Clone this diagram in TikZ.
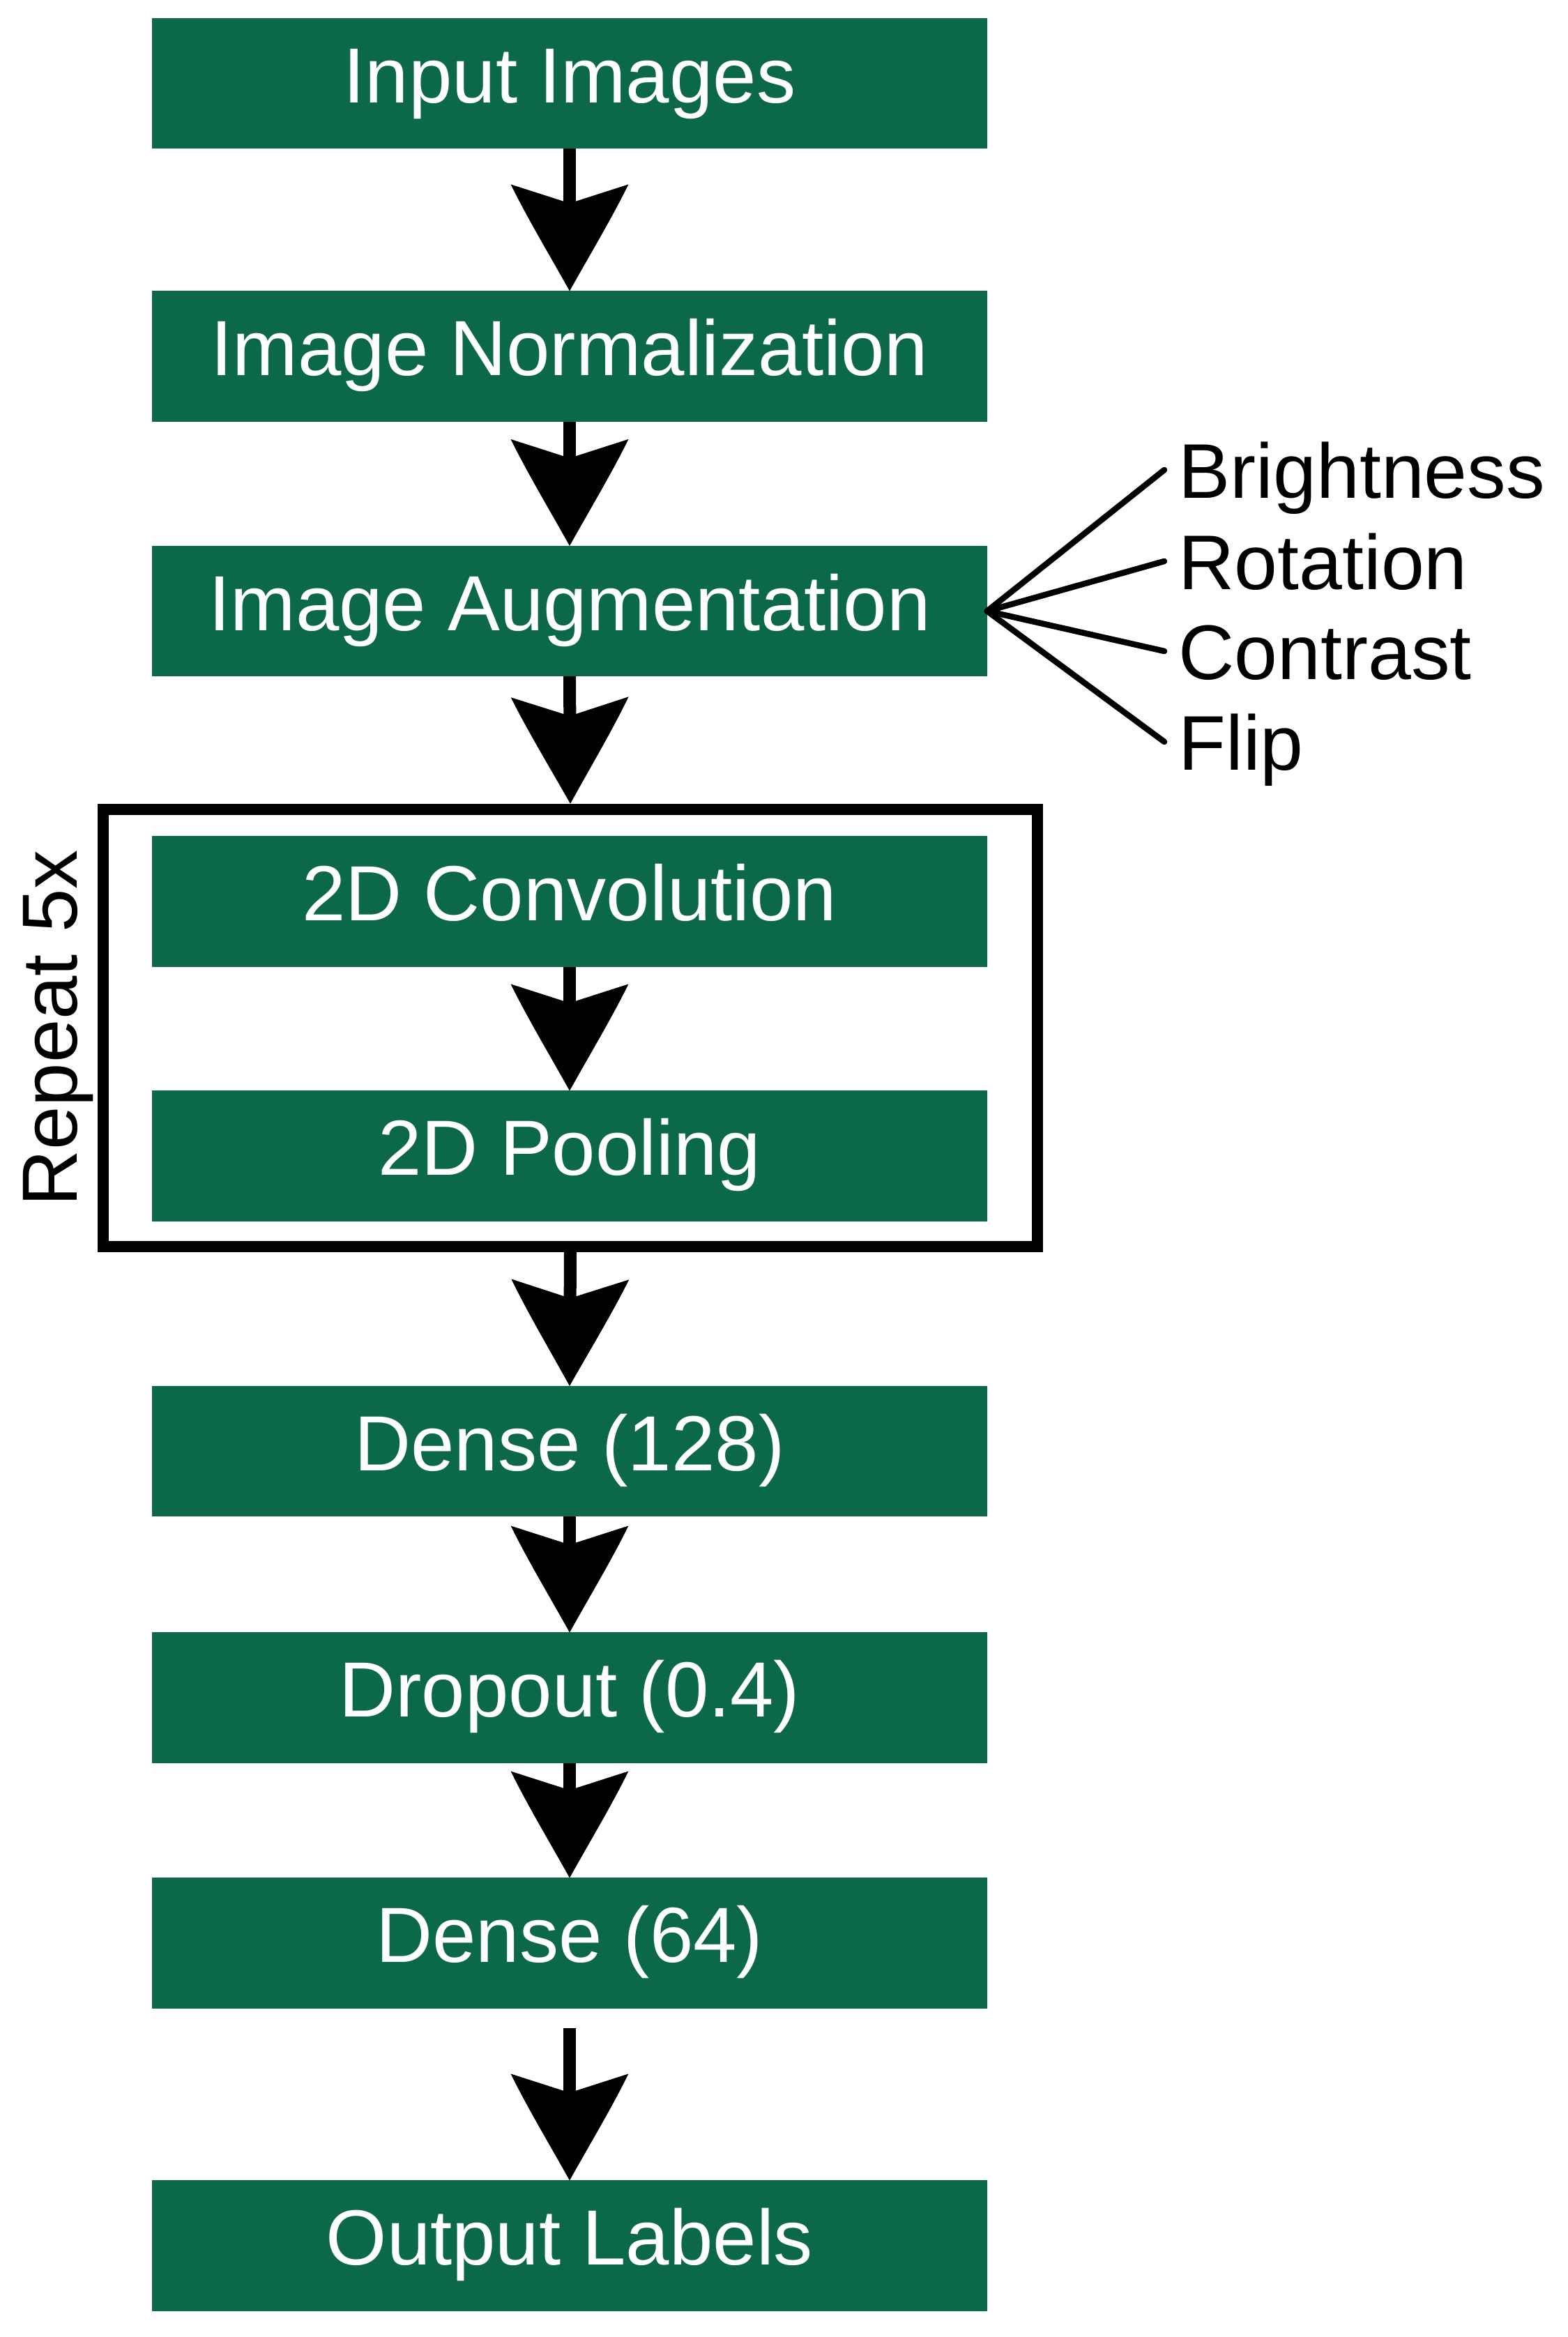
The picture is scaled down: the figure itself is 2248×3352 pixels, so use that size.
\documentclass[tikz,border=0pt]{standalone}
\usepackage{fontspec}
\setmainfont{Liberation Sans}
\usetikzlibrary{arrows.meta}
\definecolor{boxgreen}{RGB}{11,105,74}
\pgfdeclarearrow{
  name = Ogive,
  setup code = {
    \pgfarrowssettipend{0pt}
    \pgfarrowssetlineend{-35pt}
    \pgfarrowssetbackend{-43.5pt}
    \pgfarrowssetvisualbackend{-36pt}
    \pgfarrowshullpoint{0pt}{0pt}
    \pgfarrowshullpoint{-43.5pt}{24pt}
    \pgfarrowshullpoint{-43.5pt}{-24pt}
  },
  drawing code = {
    \pgfpathmoveto{\pgfpointorigin}
    \pgfpathcurveto{\pgfpoint{-14pt}{7.8pt}}{\pgfpoint{-30pt}{17.4pt}}{\pgfpoint{-43.5pt}{24pt}}
    \pgfpathlineto{\pgfpoint{-35.8pt}{0pt}}
    \pgfpathlineto{\pgfpoint{-43.5pt}{-24pt}}
    \pgfpathcurveto{\pgfpoint{-30pt}{-17.4pt}}{\pgfpoint{-14pt}{-7.8pt}}{\pgfpointorigin}
    \pgfpathclose
    \pgfusepathqfill
  }
}
\begin{document}
\begin{tikzpicture}[x=0.01cm, y=-0.01cm,
  layer/.style={fill=boxgreen, text=white, minimum width=11.97cm, minimum height=1.87cm,
    inner sep=0pt, outer sep=0pt, text height=0.84cm, text depth=0.29cm,
    font=\fontsize{31.9pt}{38pt}\selectfont},
  flow/.style={line width=0.18cm, color=black, -{Ogive}},
  auglabel/.style={anchor=base west, inner xsep=0.2cm, inner ysep=0pt, text height=0.8cm,
    text depth=0pt, font=\fontsize{31.6pt}{38pt}\selectfont},
  spoke/.style={line width=0.085cm, line cap=round},
  repeatbox/.style={draw, line width=0.16cm, minimum width=13.4cm, minimum height=6.27cm, inner sep=0pt}
]
\fill[white] (0,0) rectangle (2248,3352);
\useasboundingbox (0,0) rectangle (2248,3352);

\node[layer] (inp)  at (817,119.5)  {Input Images};
\node[layer] (norm) at (817,511)    {Image Normalization};
\node[layer] (aug)  at (817,876.5)  {Image Augmentation};
\node[repeatbox] (rep) at (818,1474.5) {};
\node[layer] (conv) at (817,1293)   {2D Convolution};
\node[layer] (pool) at (817,1658)   {2D Pooling};
\node[layer] (d128) at (817,2081.5) {Dense (128)};
\node[layer] (drop) at (817,2435)   {Dropout (0.4)};
\node[layer] (d64)  at (817,2787)   {Dense (64)};
\node[layer] (out)  at (817,3221)   {Output Labels};

\node[rotate=90, anchor=base, inner sep=0pt, font=\fontsize{31.9pt}{38pt}\selectfont] (rep5) at (110,1475) {Repeat 5x};

\node[auglabel] (lb1) at (1670,714)  {Brightness};
\node[auglabel] (lb2) at (1670,845)  {Rotation};
\node[auglabel] (lb3) at (1670,974)  {Contrast};
\node[auglabel] (lb4) at (1670,1104) {Flip};

\draw[spoke] (aug.east) -- (lb1.west);
\draw[spoke] (aug.east) -- (lb2.west);
\draw[spoke] (aug.east) -- (lb3.west);
\draw[spoke] (aug.east) -- (lb4.west);

\draw[flow] (inp.south) -- (norm.north);
\draw[flow] (norm.south) -- (aug.north);
\draw[flow] (aug.south) -- (rep.north);
\draw[flow] (conv.south) -- (pool.north);
\draw[flow] (rep.south) -- (d128.north);
\draw[flow] (d128.south) -- (drop.north);
\draw[flow] (drop.south) -- (d64.north);
\draw[flow, shorten <=0.28cm] (d64.south) -- (out.north);
\end{tikzpicture}
\end{document}
